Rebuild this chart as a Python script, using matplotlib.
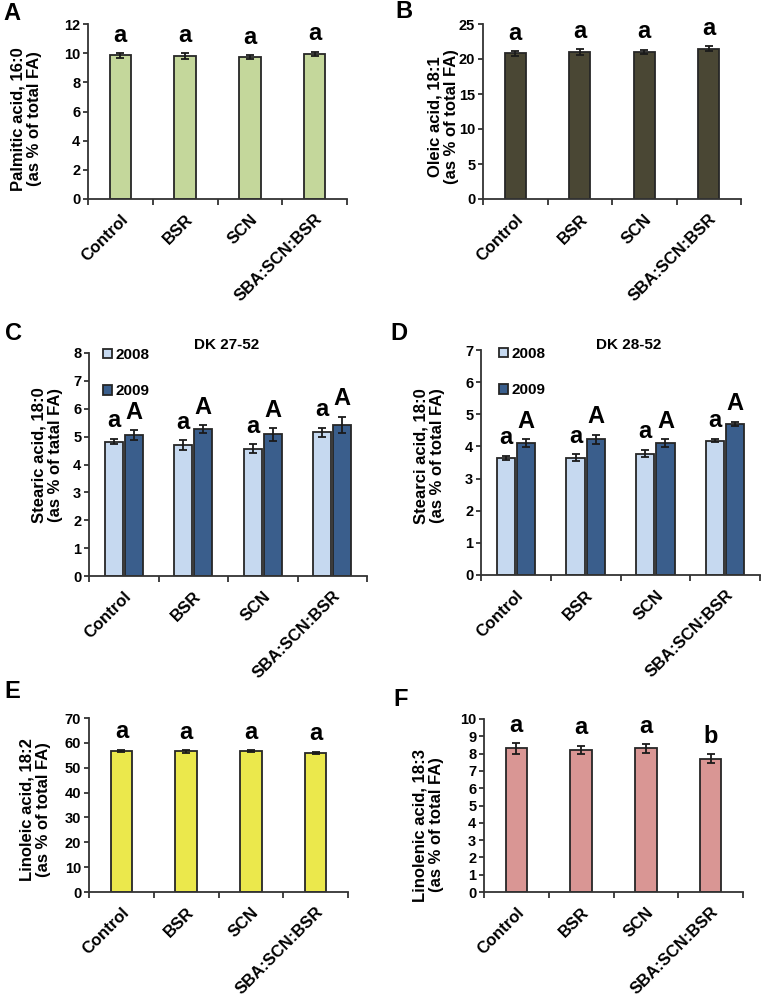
import numpy as np
import matplotlib
matplotlib.use("Agg")
import matplotlib.pyplot as plt

plt.rcParams['font.family'] = ['Liberation Sans', 'DejaVu Sans']
plt.rcParams['font.weight'] = 'bold'
plt.rcParams['axes.labelweight'] = 'bold'
plt.rcParams['xtick.direction'] = 'out'
plt.rcParams['ytick.direction'] = 'out'

# data
groups = ['Control', 'BSR', 'SCN', 'SBA:SCN:BSR']

palmitic = [9.85, 9.8, 9.72, 9.95]
palmitic_err = [0.15, 0.2, 0.13, 0.15]
palmitic_sig = ['a', 'a', 'a', 'a']

oleic = [20.8, 21.0, 21.05, 21.5]
oleic_err = [0.3, 0.4, 0.3, 0.3]
oleic_sig = ['a', 'a', 'a', 'a']

stearic27_2008 = [4.82, 4.7, 4.57, 5.15]
stearic27_2008_err = [0.1, 0.17, 0.15, 0.17]
stearic27_2009 = [5.05, 5.27, 5.08, 5.42]
stearic27_2009_err = [0.17, 0.14, 0.22, 0.3]

stearic28_2008 = [3.65, 3.65, 3.78, 4.18]
stearic28_2008_err = [0.06, 0.1, 0.12, 0.05]
stearic28_2009 = [4.1, 4.23, 4.1, 4.7]
stearic28_2009_err = [0.12, 0.14, 0.12, 0.07]

sig_2008 = ['a', 'a', 'a', 'a']
sig_2009 = ['A', 'A', 'A', 'A']

linoleic = [56.8, 56.6, 56.6, 56.0]
linoleic_err = [0.5, 0.5, 0.4, 0.4]
linoleic_sig = ['a', 'a', 'a', 'a']

linolenic = [8.3, 8.2, 8.3, 7.7]
linolenic_err = [0.3, 0.25, 0.25, 0.25]
linolenic_sig = ['a', 'a', 'a', 'b']

edge = '#262626'
spine = '#333333'
W, H = 762, 998
fig = plt.figure(figsize=(W / 100, H / 100), dpi=100)


def make_ax(l, r, t, b):
    return fig.add_axes([l / W, 1 - b / H, (r - l) / W, (b - t) / H])


def style(ax, ymax, step, ylabel, lab_x, lab_y):
    ax.set_xlim(-0.5, 3.5)
    ax.set_ylim(0, ymax)
    ax.set_yticks(np.arange(0, ymax + step / 2, step))
    ax.spines['top'].set_visible(False)
    ax.spines['right'].set_visible(False)
    for s in ['left', 'bottom']:
        ax.spines[s].set_color(spine)
        ax.spines[s].set_linewidth(1.3)
    ax.set_xticks(range(4))
    ax.set_xticklabels(groups, rotation=45, ha='right', va='top',
                       rotation_mode='anchor', fontsize=12, fontweight='bold')
    ax.tick_params(axis='x', which='major', length=0, pad=9)
    ax.set_xticks(np.arange(-0.5, 4, 1), minor=True)
    ax.tick_params(axis='x', which='minor', length=4.5, width=1.3, color=spine)
    ax.tick_params(axis='y', length=3.6, width=1.3, color=spine, labelsize=10.5, pad=2)
    for lab in ax.get_yticklabels():
        lab.set_fontweight('bold')
    ax.set_ylabel(ylabel, fontsize=12, fontweight='bold', linespacing=1.15)
    ax.yaxis.set_label_coords(lab_x / W, 1 - lab_y / H, transform=fig.transFigure)


def put_sig(ax, xs, vals, errs, sig):
    for xi, v, e, s in zip(xs, vals, errs, sig):
        ax.annotate(s, (xi, v + e), xytext=(0, 13), textcoords='offset points',
                    ha='center', va='center', fontsize=17, fontweight='bold')


def single(ax, vals, errs, sig, color):
    x = np.arange(4)
    ax.bar(x, vals, width=0.33, color=color, edgecolor=edge, linewidth=1.3, zorder=2)
    ax.errorbar(x, vals, yerr=errs, fmt='none', ecolor='#1a1a1a', elinewidth=1.3,
                capsize=3, capthick=1.3, zorder=3)
    put_sig(ax, x, vals, errs, sig)


def double(ax, v1, e1, v2, e2, title, title_x, leg_x, leg_y):
    x = np.arange(4)
    off, w = 0.145, 0.26
    ax.bar(x - off, v1, width=w, color='#c6d9f0', edgecolor=edge, linewidth=1.3,
           zorder=2, label='2008')
    ax.bar(x + off, v2, width=w, color='#3a5e8c', edgecolor=edge, linewidth=1.3,
           zorder=2, label='2009')
    ax.errorbar(x - off, v1, yerr=e1, fmt='none', ecolor='#1a1a1a', elinewidth=1.3,
                capsize=3, capthick=1.3, zorder=3)
    ax.errorbar(x + off, v2, yerr=e2, fmt='none', ecolor='#1a1a1a', elinewidth=1.3,
                capsize=3, capthick=1.3, zorder=3)
    put_sig(ax, x - off, v1, e1, sig_2008)
    put_sig(ax, x + off, v2, e2, sig_2009)
    ax.legend(loc='upper left', bbox_to_anchor=(leg_x / W, 1 - leg_y / H),
              bbox_transform=fig.transFigure, frameon=False, borderpad=0,
              borderaxespad=0, prop={'weight': 'bold', 'size': 11},
              handlelength=0.6, handleheight=0.6, handletextpad=0.25,
              labelspacing=1.45)
    fig.text(title_x / W, 1 - 345 / H, title, ha='center', va='center',
             fontsize=11, fontweight='bold')


axA = make_ax(88, 347, 24, 199)
single(axA, palmitic, palmitic_err, palmitic_sig, '#c4d79b')
style(axA, 12, 2, 'Palmitic acid, 16:0\n(as % of total FA)', 42, 119)

axB = make_ax(483, 741, 24, 199)
single(axB, oleic, oleic_err, oleic_sig, '#4a4734')
style(axB, 25, 5, 'Oleic acid, 18:1\n(as % of total FA)', 459, 117)

axC = make_ax(89, 367, 353, 576)
double(axC, stearic27_2008, stearic27_2008_err, stearic27_2009, stearic27_2009_err,
       'DK 27-52', 227, 103, 348)
style(axC, 8, 1, 'Stearic acid, 18:0\n(as % of tatal FA)', 63, 455)

axD = make_ax(481, 760, 350, 575)
double(axD, stearic28_2008, stearic28_2008_err, stearic28_2009, stearic28_2009_err,
       'DK 28-52', 629, 499, 347)
style(axD, 7, 1, 'Stearci acid, 18:0\n(as % of total FA)', 445, 456)

axE = make_ax(89, 348, 718, 892)
single(axE, linoleic, linoleic_err, linoleic_sig, '#ebe84c')
style(axE, 70, 10, 'Linoleic acid, 18:2\n(as % of total FA)', 51, 810)

axF = make_ax(484, 743, 719, 892)
single(axF, linolenic, linolenic_err, linolenic_sig, '#d99694')
style(axF, 10, 1, 'Linolenic acid, 18:3\n(as % of total FA)', 444, 825)

for lab, (px, py) in zip('ABCDEF', [(12, 13), (404, 12), (14, 333), (399, 333), (12, 692), (401, 700)]):
    fig.text(px / W, 1 - py / H, lab, fontsize=17, fontweight='bold', ha='center', va='center')

fig.savefig('out.png', dpi=100)
